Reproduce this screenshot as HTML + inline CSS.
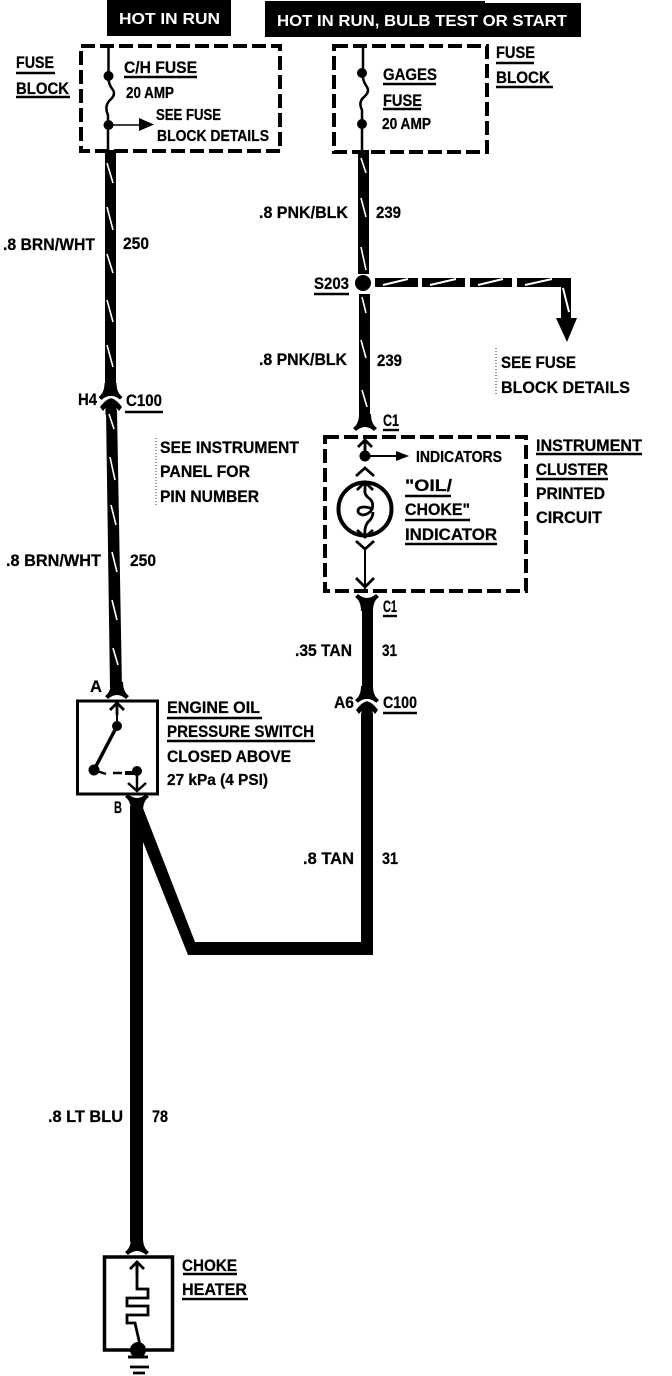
<!DOCTYPE html>
<html><head><meta charset="utf-8"><title>Wiring diagram</title>
<style>
html,body{margin:0;padding:0;background:#fff}
svg{display:block}
text{font-family:"Liberation Sans",sans-serif;font-weight:bold;font-size:17px;fill:#000;stroke:#000;stroke-width:.25}
.s{font-size:15.5px}
.w{fill:#fff;stroke:none;font-size:16px}
.slash{stroke:#fff;stroke-width:1.6;fill:none}
.ul{stroke:#000;stroke-width:2.4;fill:none}
.dash{fill:none;stroke:#000;stroke-width:4;stroke-dasharray:14 5}
.st{fill:none;stroke:#777;stroke-width:1.5;stroke-dasharray:1 2}
.gap{fill:none;stroke:#fff;stroke-width:2.2}
</style></head>
<body>
<svg width="672" height="1376" viewBox="0 0 672 1376" xmlns="http://www.w3.org/2000/svg">
<defs>
<path id="fd" d="M-12 4Q-6 0-6-10H6Q6 0 12 4L9 7Q0-1-9 7Z"/>
<path id="fu" d="M-12-4Q-6 0-6 10H6Q6 0 12-4L9-7Q0 1-9-7Z"/>
<path id="dome" d="M0-5Q6-3 11 4L8 8L5.500 5V12H-5.500V5L-8 8L-11 4Q-6-3 0-5Z"/>
<path id="au" d="M-7 7L0 0L7 7M0 0V12" fill="none" stroke="#000" stroke-width="2.800"/>
</defs>

<!-- headers -->
<rect x="107" y="0" width="124" height="36"/>
<path d="M265 1H485V3H581V37H265Z"/>
<text class="w" x="119" y="24" textLength="101" lengthAdjust="spacingAndGlyphs">HOT IN RUN</text>
<text class="w" x="277" y="26" textLength="290" lengthAdjust="spacingAndGlyphs">HOT IN RUN, BULB TEST OR START</text>

<!-- left fuse block -->
<rect class="dash" x="81" y="46" width="199" height="105"/>
<path d="M108.500 47V76Q108 84 113 90Q116 95 110 100Q104 106 108 115V150" fill="none" stroke="#000" stroke-width="2.500"/>
<circle cx="108.500" cy="76" r="5"/><circle cx="108.500" cy="125" r="5"/>
<path d="M108 125H141" stroke="#000" stroke-width="1.500"/>
<path d="M139 118L154 124.500L139 131Z"/>
<text x="16" y="68" textLength="38" lengthAdjust="spacingAndGlyphs">FUSE</text>
<path class="ul" d="M16 73H55"/>
<text x="16" y="94" textLength="53" lengthAdjust="spacingAndGlyphs">BLOCK</text>
<path class="ul" d="M16 97H70"/>
<text x="124" y="73" textLength="73" lengthAdjust="spacingAndGlyphs">C/H FUSE</text>
<path class="ul" d="M124 77H197"/>
<text class="s" x="126" y="98" textLength="48" lengthAdjust="spacingAndGlyphs">20 AMP</text>
<text class="s" x="156" y="120" textLength="65" lengthAdjust="spacingAndGlyphs">SEE FUSE</text>
<text class="s" x="157" y="141" textLength="112" lengthAdjust="spacingAndGlyphs">BLOCK DETAILS</text>

<!-- left wire -->
<rect x="105" y="150" width="11" height="236"/>
<use href="#fd" x="110.500" y="393"/>
<use href="#dome" x="111" y="403"/>
<path class="gap" d="M100 403Q111 391 122 403"/>
<path d="M106 410H117L122 688H110Z"/>
<use href="#fd" x="117" y="692"/>
<g class="slash">
<path d="M107 163L113 183M107 207L113 230M107 254L113 273M107 300L113 322M107 345L113 367"/>
<path d="M109 414L114 429M110 457L115 480M111 505L116 525M112 552L117 572M112 600L117 620M113 648L118 665"/>
</g>
<text x="3" y="250" textLength="92" lengthAdjust="spacingAndGlyphs">.8 BRN/WHT</text>
<text x="123" y="249" textLength="26" lengthAdjust="spacingAndGlyphs">250</text>
<text x="78" y="405" textLength="19" lengthAdjust="spacingAndGlyphs">H4</text>
<text x="126" y="406" textLength="36" lengthAdjust="spacingAndGlyphs">C100</text>
<path class="ul" d="M125 412H163"/>
<path class="st" d="M156 438V505"/>
<text x="160" y="453" textLength="139" lengthAdjust="spacingAndGlyphs">SEE INSTRUMENT</text>
<text x="160" y="477" textLength="90" lengthAdjust="spacingAndGlyphs">PANEL FOR</text>
<text x="160" y="502" textLength="99" lengthAdjust="spacingAndGlyphs">PIN NUMBER</text>
<text x="6" y="566" textLength="95" lengthAdjust="spacingAndGlyphs">.8 BRN/WHT</text>
<text x="130" y="566" textLength="26" lengthAdjust="spacingAndGlyphs">250</text>

<!-- right fuse block -->
<rect class="dash" x="334" y="46" width="153" height="106"/>
<path d="M363 47V73Q362 80 367 87Q370 92 364 97Q358 102 362 110V150" fill="none" stroke="#000" stroke-width="2.500"/>
<circle cx="362" cy="73" r="5"/><circle cx="362" cy="124" r="5"/>
<text x="496" y="58" textLength="39" lengthAdjust="spacingAndGlyphs">FUSE</text>
<path class="ul" d="M496 63H534"/>
<text x="496" y="83" textLength="54" lengthAdjust="spacingAndGlyphs">BLOCK</text>
<path class="ul" d="M496 87H553"/>
<text x="383" y="80" textLength="54" lengthAdjust="spacingAndGlyphs">GAGES</text>
<path class="ul" d="M383 84H436"/>
<text x="383" y="106" textLength="39" lengthAdjust="spacingAndGlyphs">FUSE</text>
<path class="ul" d="M383 109H421"/>
<text class="s" x="382" y="129" textLength="49" lengthAdjust="spacingAndGlyphs">20 AMP</text>

<!-- right wire -->
<rect x="358" y="150" width="11" height="124"/>
<circle cx="363" cy="283" r="8"/>
<rect x="359" y="294" width="11" height="124"/>
<use href="#fd" x="365" y="424"/>
<g class="slash">
<path d="M361 158L366 173M361 198L366 217M361 247L366 270M362 297L366 313M361 340L366 358M362 390L367 407"/>
</g>
<text x="259" y="218" textLength="89" lengthAdjust="spacingAndGlyphs">.8 PNK/BLK</text>
<text x="376" y="218" textLength="25" lengthAdjust="spacingAndGlyphs">239</text>
<text x="314" y="289" textLength="35" lengthAdjust="spacingAndGlyphs">S203</text>
<path class="ul" d="M314 294H349"/>
<text x="259" y="365" textLength="88" lengthAdjust="spacingAndGlyphs">.8 PNK/BLK</text>
<text x="377" y="366" textLength="25" lengthAdjust="spacingAndGlyphs">239</text>
<text x="383" y="426" textLength="16" lengthAdjust="spacingAndGlyphs">C1</text>
<path class="ul" d="M383 430H399"/>

<!-- branch -->
<rect x="375" y="278" width="43" height="9"/>
<rect x="422" y="278" width="43" height="9"/>
<rect x="470" y="278" width="42" height="9"/>
<path d="M517 278H571V318H577L567 342L556 318H561V287H517Z"/>
<g class="slash" style="stroke-width:2">
<path d="M383 285L408 279M430 285L456 279M478 285L503 279M525 285L552 279"/>
<path d="M563 288L569 312"/>
</g>
<path class="st" d="M496 348V396"/>
<text x="501" y="368" textLength="75" lengthAdjust="spacingAndGlyphs">SEE FUSE</text>
<text x="501" y="393" textLength="129" lengthAdjust="spacingAndGlyphs">BLOCK DETAILS</text>

<!-- instrument cluster -->
<rect class="dash" x="325" y="437" width="201" height="154"/>
<use href="#au" x="365" y="440"/>
<path d="M365 445V456" stroke="#000" stroke-width="2.800"/>
<circle cx="365" cy="456" r="5.500"/>
<path d="M365 456H400" stroke="#000" stroke-width="2"/>
<path d="M396 451L409 456L396 461Z"/>
<path d="M356 476L365 468L374 476" fill="none" stroke="#000" stroke-width="2.800"/>
<circle cx="365" cy="509" r="26.500" fill="none" stroke="#000" stroke-width="4"/>
<path d="M357 490L365 482L373 490M365 482V490Q364 495 370 499Q374 503 372 509Q370 514 363 515Q358 514 358 511Q358 507 364 507Q370 507 373 510M373 512Q373 518 368 522Q364 527 365 536M357 530L365 537L373 530" fill="none" stroke="#000" stroke-width="2.800"/>
<path d="M356 541L365 549L374 541" fill="none" stroke="#000" stroke-width="2.800"/>
<path d="M365 549V590" stroke="#000" stroke-width="2"/>
<path d="M356 578L365 587L374 578" fill="none" stroke="#000" stroke-width="2.800"/>
<text class="s" x="416" y="462" textLength="86" lengthAdjust="spacingAndGlyphs">INDICATORS</text>
<text x="405" y="491" textLength="47" lengthAdjust="spacingAndGlyphs">"OIL/</text>
<path class="ul" d="M405 496H451"/>
<text x="405" y="515" textLength="65" lengthAdjust="spacingAndGlyphs">CHOKE"</text>
<path class="ul" d="M405 520H470"/>
<text x="405" y="540" textLength="92" lengthAdjust="spacingAndGlyphs">INDICATOR</text>
<path class="ul" d="M405 544H497"/>
<text x="536" y="451" textLength="106" lengthAdjust="spacingAndGlyphs">INSTRUMENT</text>
<path class="ul" d="M536 454H642"/>
<text x="536" y="475" textLength="72" lengthAdjust="spacingAndGlyphs">CLUSTER</text>
<path class="ul" d="M536 479H608"/>
<text x="536" y="499" textLength="69" lengthAdjust="spacingAndGlyphs">PRINTED</text>
<text x="536" y="523" textLength="66" lengthAdjust="spacingAndGlyphs">CIRCUIT</text>

<!-- lower right wire -->
<use href="#fu" x="367" y="601"/>
<rect x="362" y="606" width="11" height="86"/>
<use href="#fd" x="367" y="696"/>
<use href="#dome" x="367" y="706"/>
<path class="gap" d="M356 706Q367 694 378 706"/>
<path d="M361 713H373V955H188L143 842V808L195 942H361Z"/>
<text x="383" y="612" textLength="14" lengthAdjust="spacingAndGlyphs">C1</text>
<path class="ul" d="M383 616H397"/>
<text x="295" y="656" textLength="57" lengthAdjust="spacingAndGlyphs">.35 TAN</text>
<text x="382" y="656" textLength="15" lengthAdjust="spacingAndGlyphs">31</text>
<text x="334" y="708" textLength="20" lengthAdjust="spacingAndGlyphs">A6</text>
<text x="383" y="708" textLength="34" lengthAdjust="spacingAndGlyphs">C100</text>
<path class="ul" d="M383 713H417"/>
<text x="303" y="864" textLength="51" lengthAdjust="spacingAndGlyphs">.8 TAN</text>
<text x="382" y="864" textLength="16" lengthAdjust="spacingAndGlyphs">31</text>

<!-- engine oil switch -->
<rect x="77.500" y="701" width="80" height="93" fill="none" stroke="#000" stroke-width="3"/>
<use href="#au" x="117" y="703"/>
<path d="M117 708V726" stroke="#000" stroke-width="2"/>
<circle cx="117" cy="726" r="5"/>
<path d="M117 726L94 770" stroke="#000" stroke-width="3.500"/>
<circle cx="94" cy="770" r="5.500"/>
<path d="M94 770L106 774M113 773H122" stroke="#000" stroke-width="2.500"/>
<circle cx="137" cy="771" r="5"/>
<path d="M125 773H135" stroke="#000" stroke-width="4"/>
<path d="M137 771V791" stroke="#000" stroke-width="2.500"/>
<path d="M128 783L137 791L146 783" fill="none" stroke="#000" stroke-width="2.500"/>
<use href="#fu" x="137" y="801"/>
<rect x="130" y="806" width="13" height="436"/>
<text x="90" y="692" textLength="12" lengthAdjust="spacingAndGlyphs">A</text>
<text x="114" y="813" textLength="8" lengthAdjust="spacingAndGlyphs">B</text>
<text x="167" y="713" textLength="93" lengthAdjust="spacingAndGlyphs">ENGINE OIL</text>
<path class="ul" d="M167 718H262"/>
<text x="167" y="737" textLength="147" lengthAdjust="spacingAndGlyphs">PRESSURE SWITCH</text>
<path class="ul" d="M167 741H315"/>
<text x="167" y="762" textLength="124" lengthAdjust="spacingAndGlyphs">CLOSED ABOVE</text>
<text class="s" x="167" y="785" textLength="101" lengthAdjust="spacingAndGlyphs">27 kPa (4 PSI)</text>
<text x="48" y="1122" textLength="75" lengthAdjust="spacingAndGlyphs">.8 LT BLU</text>
<text x="152" y="1122" textLength="16" lengthAdjust="spacingAndGlyphs">78</text>

<!-- choke heater -->
<use href="#fd" x="137" y="1248"/>
<rect x="104.500" y="1257" width="68" height="93" fill="none" stroke="#000" stroke-width="3.500"/>
<use href="#au" x="137" y="1262"/>
<path d="M137 1264V1289H148V1298H127V1306H148V1315H127V1323H135L140 1345" fill="none" stroke="#000" stroke-width="2.800"/>
<circle cx="138" cy="1350" r="8"/>
<path d="M128 1357H148" stroke="#000" stroke-width="3"/>
<path d="M130 1367H149M133 1373H145" stroke="#000" stroke-width="2.800"/>
<text x="182" y="1271" textLength="55" lengthAdjust="spacingAndGlyphs">CHOKE</text>
<path class="ul" d="M183 1274H237"/>
<text x="182" y="1295" textLength="65" lengthAdjust="spacingAndGlyphs">HEATER</text>
<path class="ul" d="M182 1299H248"/>
</svg>
</body></html>
